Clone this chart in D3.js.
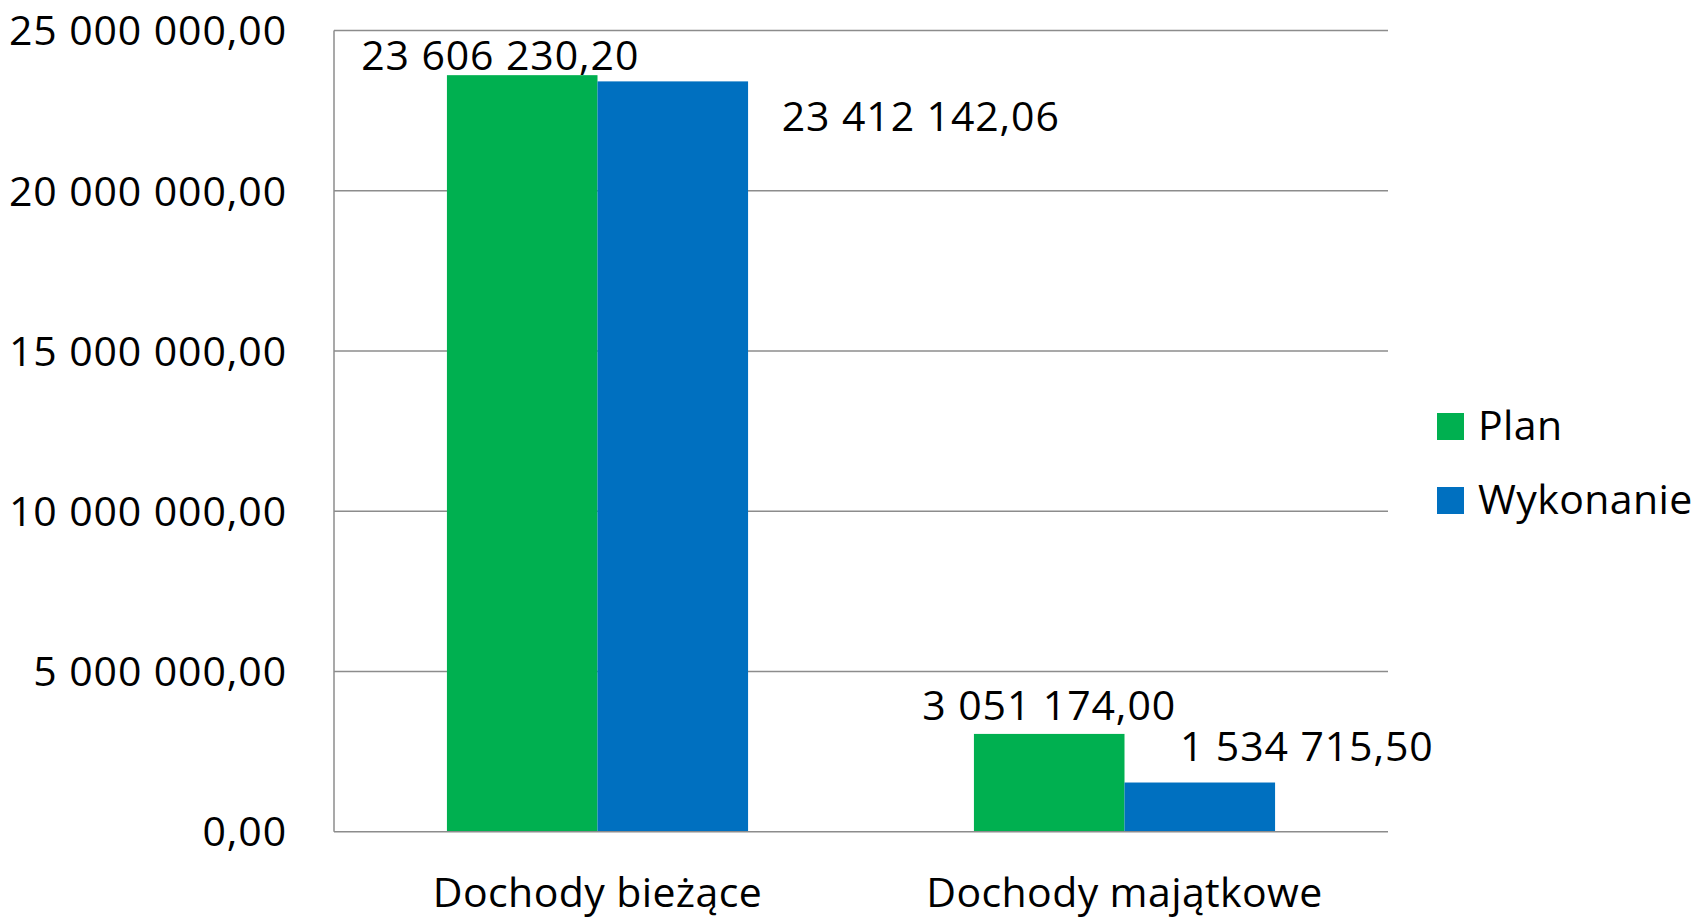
<!DOCTYPE html>
<html>
<head>
<meta charset="utf-8">
<script src="https://cdn.jsdelivr.net/npm/d3@7"></script>
<style>
body { margin: 0; background: #fff; }
text { font-family: "Open Sans", sans-serif; fill: #000; }
text.num { letter-spacing: 0.9px; }
text.lbl { letter-spacing: 0.4px; }
</style>
</head>
<body>
<svg id="chart" width="1700" height="917"></svg>
<script>
var CATEGORIES = ["Dochody bieżące", "Dochody majątkowe"];
var SERIES = ["Plan", "Wykonanie"];
var PLAN = [23606230.20, 3051174.00];
var WYKONANIE = [23412142.06, 1534715.50];
var Y_TICKS = [0, 5000000, 10000000, 15000000, 20000000, 25000000];

var COLORS = ["#00B050", "#0070C0"];
var FONT_SIZE = 41;

// label nudges (Excel moved some labels by hand), [series][category] -> [dx, dy]
var LABEL_NUDGE = [
	[[-22, -5], [0, -14]],
	[[248, 50], [107, -22]]
];

var M = { left: 334, right: 1388, top: 30.5, bottom: 831.7 };

var pl = d3.formatLocale({ decimal: ",", thousands: " ", grouping: [3], currency: ["", ""] });
var fmt = pl.format(",.2f");

var svg = d3.select("#chart");

var y = d3.scaleLinear().domain([0, 25000000]).range([M.bottom, M.top]);
var x0 = d3.scaleBand().domain(CATEGORIES).range([M.left, M.right]).paddingInner(0).paddingOuter(0);
// gap width 150% of bar width
var barW = x0.bandwidth() / 3.5;
var x1 = d3.scaleBand().domain(SERIES).range([0, barW * 2]);

// gridlines
svg.append("g").selectAll("line.grid")
	.data(Y_TICKS.filter(function(d) { return d > 0; }))
	.enter().append("line")
	.attr("class", "grid")
	.attr("x1", M.left).attr("x2", M.right)
	.attr("y1", function(d) { return y(d); })
	.attr("y2", function(d) { return y(d); })
	.style("stroke", "#8c8c8c")
	.style("stroke-width", 1.5);

// y tick labels
svg.append("g").selectAll("text")
	.data(Y_TICKS)
	.enter().append("text")
	.attr("class", "num")
	.attr("x", M.left - 47)
	.attr("y", function(d) { return y(d); })
	.attr("dy", "0.36em")
	.attr("text-anchor", "end")
	.style("font-size", FONT_SIZE + "px")
	.text(function(d) { return fmt(d); });

// bars
var data = CATEGORIES.map(function(c, i) {
	return { cat: c, values: [PLAN[i], WYKONANIE[i]] };
});

var groups = svg.append("g").selectAll("g.cat")
	.data(data)
	.enter().append("g")
	.attr("class", "cat")
	.attr("transform", function(d) {
		return "translate(" + (x0(d.cat) + (x0.bandwidth() - barW * 2) / 2) + ",0)";
	});

groups.selectAll("rect")
	.data(function(d, ci) {
		return d.values.map(function(v, si) { return { s: SERIES[si], si: si, ci: ci, v: v }; });
	})
	.enter().append("rect")
	.attr("x", function(d) { return x1(d.s); })
	.attr("width", x1.bandwidth())
	.attr("y", function(d) { return y(d.v); })
	.attr("height", function(d) { return y(0) - y(d.v); })
	.style("fill", function(d) { return COLORS[d.si]; });

groups.selectAll("text.val")
	.data(function(d, ci) {
		return d.values.map(function(v, si) { return { s: SERIES[si], si: si, ci: ci, v: v }; });
	})
	.enter().append("text")
	.attr("class", "val num")
	.attr("x", function(d) { return x1(d.s) + x1.bandwidth() / 2 + LABEL_NUDGE[d.si][d.ci][0]; })
	.attr("y", function(d) { return y(d.v) + LABEL_NUDGE[d.si][d.ci][1]; })
	.attr("text-anchor", "middle")
	.style("font-size", FONT_SIZE + "px")
	.text(function(d) { return fmt(d.v); });

// axes lines
svg.append("line")
	.attr("x1", M.left).attr("x2", M.left)
	.attr("y1", M.top).attr("y2", M.bottom)
	.style("stroke", "#8c8c8c").style("stroke-width", 1.5);
svg.append("line")
	.attr("x1", M.left).attr("x2", M.right)
	.attr("y1", M.bottom).attr("y2", M.bottom)
	.style("stroke", "#8c8c8c").style("stroke-width", 1.5);

// category labels
svg.append("g").selectAll("text")
	.data(CATEGORIES)
	.enter().append("text")
	.attr("class", "lbl")
	.attr("x", function(d) { return x0(d) + x0.bandwidth() / 2; })
	.attr("y", 907)
	.attr("text-anchor", "middle")
	.style("font-size", FONT_SIZE + "px")
	.text(function(d) { return d; });

// legend
var legend = svg.append("g").attr("transform", "translate(1437,413)");
var items = legend.selectAll("g")
	.data(SERIES)
	.enter().append("g")
	.attr("transform", function(d, i) { return "translate(0," + i * 74 + ")"; });
items.append("rect")
	.attr("width", 27).attr("height", 27)
	.style("fill", function(d, i) { return COLORS[i]; });
items.append("text")
	.attr("class", "lbl")
	.attr("x", 41)
	.attr("y", 27)
	.style("font-size", FONT_SIZE + "px")
	.text(function(d) { return d; });
</script>
</body>
</html>
